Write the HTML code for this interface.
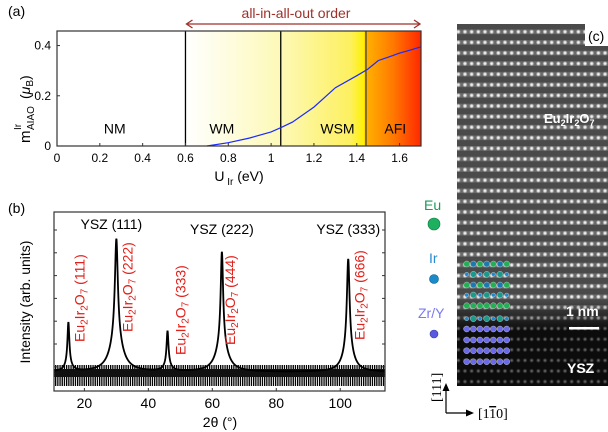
<!DOCTYPE html>
<html><head><meta charset="utf-8"><style>
html,body{margin:0;padding:0;background:#fff;}
svg{display:block;font-family:"Liberation Sans",sans-serif;}
</style></head><body>
<svg id="fig" width="608" height="432" viewBox="0 0 608 432">
<defs>
<linearGradient id="phaseGrad" x1="185.4" y1="0" x2="421" y2="0" gradientUnits="userSpaceOnUse">
<stop offset="0" stop-color="#ffffff"/>
<stop offset="0.40" stop-color="#fdf9b8"/>
<stop offset="0.70" stop-color="#fdf060"/>
<stop offset="0.76" stop-color="#fff000"/>
<stop offset="0.762" stop-color="#ffb400"/>
<stop offset="0.88" stop-color="#ff7a00"/>
<stop offset="1" stop-color="#ff2800"/>
</linearGradient>
<radialGradient id="dotG"><stop offset="0" stop-color="#ffffff"/><stop offset="0.45" stop-color="#dcdcdc"/><stop offset="1" stop-color="#aaa" stop-opacity="0"/></radialGradient>
<radialGradient id="dotD"><stop offset="0" stop-color="#777"/><stop offset="1" stop-color="#777" stop-opacity="0"/></radialGradient>
<pattern id="latTop" x="455" y="26.5" width="6.67" height="10.6" patternUnits="userSpaceOnUse">
<rect width="6.67" height="10.6" fill="#4a4a4a"/><rect y="3" width="6.67" height="4.6" fill="#6a6a6a"/>
<circle cx="3.3" cy="5.3" r="2.6" fill="url(#dotG)"/></pattern>
<pattern id="latBot" x="455" y="26.5" width="6.67" height="10.6" patternUnits="userSpaceOnUse">
<rect width="6.67" height="10.6" fill="#0c0c0c"/><circle cx="3.3" cy="5.3" r="2.4" fill="url(#dotD)"/></pattern>
<linearGradient id="fadeBot" x1="0" y1="0" x2="0" y2="1"><stop offset="0" stop-color="#fff" stop-opacity="0"/><stop offset="1" stop-color="#fff" stop-opacity="1"/></linearGradient>
<mask id="botMask"><rect x="457" y="300" width="151" height="30" fill="url(#fadeBot)"/><rect x="457" y="330" width="151" height="60" fill="#fff"/></mask>
<pattern id="noisePat" x="0" y="0" width="2.2" height="40" patternUnits="userSpaceOnUse">
<rect width="1.3" height="40" fill="#000"/></pattern>
</defs>

<text x="8" y="16" font-size="14">(a)</text>
<g id="panelA"></g>

<text x="8" y="213" font-size="14">(b)</text>
<g id="panelB"></g>

<g>
<rect x="457" y="24" width="151" height="362" fill="url(#latTop)"/>
<rect x="457" y="24" width="151" height="362" fill="url(#latBot)" mask="url(#botMask)"/>
<rect x="585" y="24" width="23" height="22" fill="#fff"/>
<text x="588" y="41" font-size="14">(c)</text>
<text x="544" y="123" font-size="13" font-weight="bold" fill="#fff">Eu<tspan font-size="9" dy="3">2</tspan><tspan dy="-3">Ir</tspan><tspan font-size="9" dy="3">2</tspan><tspan dy="-3">O</tspan><tspan font-size="9" dy="3">7</tspan></text>
<text x="566" y="316" font-size="14" font-weight="bold" fill="#fff">1 nm</text>
<rect x="569" y="327" width="30" height="2.5" fill="#fff"/>
<text x="567" y="373" font-size="14" font-weight="bold" fill="#fff">YSZ</text>
<g id="atoms"></g>
</g>
<g>
<text x="424" y="210" font-size="14" fill="#1a9a5a">Eu</text>
<circle cx="434" cy="224" r="6" fill="#1eb060" stroke="#0a7a3a" stroke-width="0.6"/>
<text x="429" y="263" font-size="14" fill="#2a8ad0">Ir</text>
<circle cx="434" cy="279" r="4.5" fill="#1a8ac8" stroke="#0a5a8a" stroke-width="0.6"/>
<text x="418" y="318" font-size="14" fill="#7a7af0">Zr/Y</text>
<circle cx="434" cy="334" r="4" fill="#5a5ae0" stroke="#3a3aa0" stroke-width="0.6"/>
</g>
<g font-family="'Liberation Serif',serif">
<line x1="446" y1="413" x2="446" y2="389" stroke="#000" stroke-width="1.2"/>
<polygon points="446,383 442.5,391 449.5,391" fill="#000"/>
<line x1="446" y1="413" x2="468" y2="413" stroke="#000" stroke-width="1.2"/>
<polygon points="474,413 466,409.5 466,416.5" fill="#000"/>
<text transform="translate(441,402) rotate(-90)" font-size="14">[111]</text>
<text x="478" y="418" font-size="14">[1<tspan text-decoration="overline">1</tspan>0]</text>
</g>
</svg>
<script>
const NS="http://www.w3.org/2000/svg";
function mk(parent,tag,attrs,text){const e=document.createElementNS(NS,tag);for(const k in attrs)e.setAttribute(k,attrs[k]);if(text!==undefined)e.textContent=text;parent.appendChild(e);return e;}

/* ---------- Panel (a) data ---------- */
const aXTicks=[0,0.2,0.4,0.6,0.8,1,1.2,1.4,1.6];
const aYTicks=[0,0.2,0.4];
const aBoundaries=[0.6,1.045,1.443];
const aPhaseNames=["NM","WM","WSM","AFI"];
const aPhaseCenters=[0.27,0.77,1.31,1.58];
const aU=[0.7,0.8,0.9,1.0,1.05,1.1,1.2,1.3,1.4,1.45,1.5,1.55,1.6,1.65,1.7];
const aM=[0,0.013,0.032,0.056,0.075,0.095,0.155,0.232,0.28,0.305,0.34,0.355,0.37,0.382,0.395];

(function(){
 const g=document.getElementById('panelA');
 const L=57,R=421,T=31,B=146,xmax=1.7,ymax=0.458;
 const X=v=>L+(v/xmax)*(R-L), Y=v=>B-(v/ymax)*(B-T);
 let r=mk(g,'rect',{x:X(aBoundaries[0]),y:T,width:R-X(aBoundaries[0]),height:B-T,fill:'url(#phaseGrad)'});
 
 
 aBoundaries.forEach((b,i)=>{const l=mk(g,'line',{x1:X(b),x2:X(b),y1:T,y2:B,stroke:i==2?'#444':'#000','stroke-width':1.3});
  
  });
 aPhaseNames.forEach((n,i)=>{const t=mk(g,'text',{x:X(aPhaseCenters[i]),y:Y(0.07)+5,'font-size':14,'text-anchor':'middle'},n);
  
  });
 const pts=aU.map((u,i)=>X(u).toFixed(1)+','+Y(aM[i]).toFixed(1)).join(' ');
 const pl=mk(g,'polyline',{points:pts,fill:'none',stroke:'#1a2aff','stroke-width':1.2});
 
 
 const fr=mk(g,'rect',{x:L,y:T,width:R-L,height:B-T,fill:'none',stroke:'#333','stroke-width':1.2});
 
 
 aXTicks.forEach(v=>{mk(g,'line',{x1:X(v),x2:X(v),y1:B,y2:B-3,stroke:'#333'});
  const t=mk(g,'text',{x:X(v),y:B+16,'font-size':12,'text-anchor':'middle'},String(v));
  
  });
 aYTicks.forEach(v=>{mk(g,'line',{x1:L,x2:L+3,y1:Y(v),y2:Y(v),stroke:'#333'});
  const t=mk(g,'text',{x:L-6,y:Y(v)+4,'font-size':12,'text-anchor':'end'},String(v));
  
  });
 const xt=mk(g,'text',{x:239,y:181,'font-size':14,'text-anchor':'middle'});
 xt.innerHTML='U<tspan font-size="10" dy="4"> Ir</tspan><tspan dy="-4"> (eV)</tspan>';
 
 
 const yg=mk(g,'g',{transform:'translate(30,143) rotate(-90)'});
 
 
 mk(yg,'text',{x:0,y:0,'font-size':15},'m');
 mk(yg,'text',{x:13,y:-9,'font-size':10},'Ir');
 mk(yg,'text',{x:13,y:4,'font-size':10},'AIAO');
 const u=mk(yg,'text',{x:44,y:0,'font-size':14});
 u.innerHTML='(<tspan font-style="italic">μ</tspan><tspan font-size="10" dy="3">B</tspan><tspan dy="-3">)</tspan>';
 const ac='#a0302a';
 const ar=mk(g,'g',{});
 
 
 mk(ar,'line',{x1:X(0.6)+2,x2:R-2,y1:24,y2:24,stroke:ac,'stroke-width':1.3});
 mk(ar,'polyline',{points:`${X(0.6)+7},20 ${X(0.6)+1},24 ${X(0.6)+7},28`,fill:'none',stroke:ac,'stroke-width':1.3});
 mk(ar,'polyline',{points:`${R-7},20 ${R-1},24 ${R-7},28`,fill:'none',stroke:ac,'stroke-width':1.3});
 const at=mk(g,'text',{x:296,y:18,'font-size':14,'text-anchor':'middle',fill:ac},'all-in-all-out order');
 
 
})();

/* ---------- Panel (b) data ---------- */
const bXTicks=[20,40,60,80,100];
const bPeakPos=[15,30,46,63,102.5];
const bPeakHeight=[41,98,33,90,88];
const bPeakWidth=[0.35,0.55,0.35,0.45,0.5];
const bBroadHeight=[8,35,7,30,25];
const bBroadWidth=[1.2,2.2,1.2,2.0,1.8];
const bBaseline=[19];
const bYsz=["YSZ (111)","YSZ (222)","YSZ (333)"];
const bYszPos=[30,63,102.5];
const bFilmIdx=["(111)","(222)","(333)","(444)","(666)"];
const bFilmPos=[18.5,33.5,50,65.5,106];

(function(){
 const g=document.getElementById('panelB');
 const L=54,R=385,T=212,B=391,xmin=10.5,xmax=114,ymax=179;
 const X=v=>L+(v-xmin)/(xmax-xmin)*(R-L), Y=v=>B-(v/ymax)*(B-T);
 const band=mk(g,'rect',{x:L,y:Y(bBaseline[0]+7),width:R-L,height:Y(bBaseline[0]-14)-Y(bBaseline[0]+7),fill:'url(#noisePat)'});
 
 
 const core=mk(g,'rect',{x:L,y:Y(bBaseline[0]+3),width:R-L,height:8,fill:'#111'});
 
 
 let d='';
 for(let x=xmin;x<=xmax;x+=0.05){
  let v=bBaseline[0];
  bPeakPos.forEach((p,i)=>{const w=bPeakWidth[i],W=bBroadWidth[i];
   v+=bPeakHeight[i]*(w*w)/((x-p)*(x-p)+w*w);
   v+=bBroadHeight[i]*(W*W)/((x-p)*(x-p)+W*W);});
  d+=(d?'L':'M')+X(x).toFixed(2)+','+Math.max(Y(v),T).toFixed(2);
 }
 const p=mk(g,'path',{d:d,fill:'none',stroke:'#000','stroke-width':1.8});
 
 
 const fr=mk(g,'rect',{x:L,y:T,width:R-L,height:B-T,fill:'none',stroke:'#333','stroke-width':1.2});
 
 
 bXTicks.forEach(v=>{mk(g,'line',{x1:X(v),x2:X(v),y1:B,y2:B-3,stroke:'#333'});
  const t=mk(g,'text',{x:X(v),y:B+17,'font-size':14,'text-anchor':'middle'},String(v));
  
  });
 for(let k=0;k<7;k++){const y=230+k*22.8;mk(g,'line',{x1:L,x2:L+3,y1:y,y2:y,stroke:'#333'});mk(g,'line',{x1:R,x2:R-3,y1:y,y2:y,stroke:'#333'});}
 bYsz.forEach((s,i)=>{const t=mk(g,'text',{x:X(bYszPos[i])+(i==0?-5:0),y:i==0?229:234,'font-size':14,'text-anchor':'middle'},s);
  
  });
 const fy=[342,332,355,345,340];
 bFilmIdx.forEach((s,i)=>{const t=mk(g,'text',{transform:`translate(${X(bFilmPos[i])+5},${fy[i]}) rotate(-90)`,'font-size':14,fill:'#e0201a'});
  t.innerHTML='Eu<tspan font-size="10" dy="3">2</tspan><tspan dy="-3">Ir</tspan><tspan font-size="10" dy="3">2</tspan><tspan dy="-3">O</tspan><tspan font-size="10" dy="3">7</tspan><tspan dy="-3"> '+s+'</tspan>';
  
  });
 const xt=mk(g,'text',{x:220,y:427,'font-size':14,'text-anchor':'middle'},'2θ (°)');
 
 
 const yt=mk(g,'text',{transform:'translate(30,302) rotate(-90)','font-size':14,'text-anchor':'middle'},'Intensity (arb. units)');
 
 
})();

/* ---------- Panel (c) atom overlay ---------- */
(function(){
 const g=document.getElementById('atoms');
 const rows=[264,274.3,285,295,305.7,318.7,329,340,350.7,361.7];
 for(let r=0;r<rows.length;r++)for(let c=0;c<7;c++){
  const x=466.7+c*6.67;let fill,rad;
  if(r>=6){fill='#6a6ae8';rad=3;}
  else if(r%2==0){fill=(c%2==1&&r<4)?'#1a7ab0':'#22b055';rad=3;}
  else{fill=c%2==0?'#1a8ad0':'#1a9a8a';rad=c%2==0?2:3;}
  const e=mk(g,'circle',{cx:x,cy:rows[r],r:rad,fill:fill,stroke:'#ddd','stroke-width':0.4});
  
  
 }
})();
</script>
</body></html>
